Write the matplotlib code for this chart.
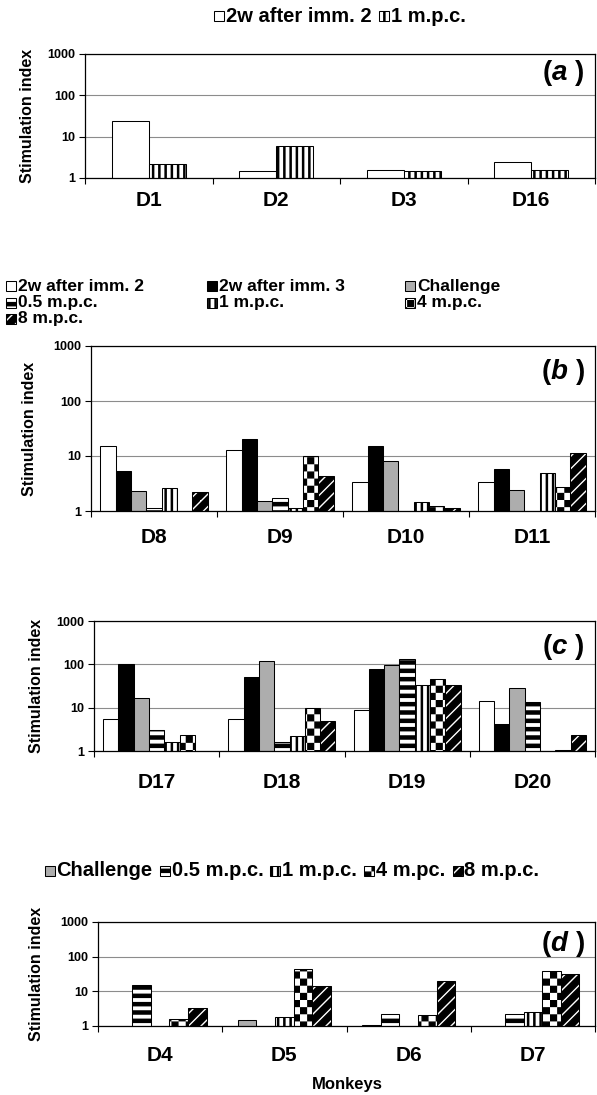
import matplotlib
matplotlib.use('Agg')
import matplotlib.pyplot as plt
import matplotlib.hatch as mhatch
from matplotlib.path import Path
from matplotlib.patches import Rectangle
from matplotlib.ticker import NullLocator
import numpy as np

# =============================================================================
# Data (stimulation index; nan = no bar)
# =============================================================================
nan = np.nan

cats_a = ['D1', 'D2', 'D3', 'D16']
a_imm2 = [24, 1.45, 1.6, 2.4]
a_1mpc = [2.2, 6.0, 1.45, 1.6]

cats_b = ['D8', 'D9', 'D10', 'D11']
b_imm2 = [15.3, 13.1, 3.4, 3.3]
b_imm3 = [5.4, 20.5, 15.3, 5.9]
b_chal = [2.3, 1.5, 8.2, 2.4]
b_05 = [1.15, 1.75, nan, nan]
b_1 = [2.65, 1.13, 1.44, 5.0]
b_4 = [nan, 10.2, 1.23, 2.7]
b_8 = [2.2, 4.4, 1.12, 11.4]

cats_c = ['D17', 'D18', 'D19', 'D20']
c_imm2 = [5.6, 5.6, 8.8, 14.4]
c_imm3 = [100, 50, 79, 4.3]
c_chal = [17, 121, 99, 29]
c_05 = [3.05, 1.6, 134, 13.2]
c_1 = [1.6, 2.2, 34, nan]
c_4 = [2.3, 9.8, 46, 1.08]
c_8 = [nan, 5.0, 34, 2.4]

cats_d = ['D4', 'D5', 'D6', 'D7']
d_chal = [nan, 1.48, 1.1, nan]
d_05 = [15.5, nan, 2.25, 2.25]
d_1 = [nan, 1.77, nan, 2.57]
d_4 = [1.62, 44.5, 2.1, 39.8]
d_8 = [3.34, 13.9, 19.3, 32]

yticks = [1, 10, 100, 1000]
ytick_labels = ['1', '10', '100', '1000']

# =============================================================================
# Fill patterns (filled bands / checker instead of matplotlib's thin lines)
# =============================================================================
HATCH_LW = 1.0
plt.rcParams['hatch.linewidth'] = HATCH_LW
SHRINK = HATCH_LW / 72  # hatch tile is one inch, the stroke grows each shape by this

CLOSED = [Path.MOVETO, Path.LINETO, Path.LINETO, Path.LINETO, Path.CLOSEPOLY]


def rect(x0, y0, x1, y1):
    return [(x0, y0), (x1, y0), (x1, y1), (x0, y1), (x0, y0)]


class FilledHatch(mhatch.HatchPatternBase):
    symbol = ''

    def __init__(self, hatch, density):
        self.polys = self.shapes() if self.symbol in hatch else []
        self.num_vertices = 5 * len(self.polys)

    def set_vertices_and_codes(self, vertices, codes):
        for k, poly in enumerate(self.polys):
            vertices[5 * k:5 * k + 5] = poly
            codes[5 * k:5 * k + 5] = CLOSED


class HBands(FilledHatch):
    symbol = '-'

    def shapes(self):
        n, t = 12, 0.045 - SHRINK
        return [rect(0, (i + .5) / n - t / 2, 1, (i + .5) / n + t / 2) for i in range(n)]


class VBands(FilledHatch):
    symbol = '|'

    def shapes(self):
        n, t = 16, 0.025 - SHRINK
        return [rect((i + .5) / n - t / 2, 0, (i + .5) / n + t / 2, 1) for i in range(n)]


class DiagBands(FilledHatch):
    symbol = '/'

    def shapes(self):
        n = 8
        b = 1 / n - 0.02 - SHRINK * np.sqrt(2)
        out = []
        for k in range(2 * n):
            c = -1 + k / n
            out.append([(0, c), (1, 1 + c), (1, 1 + c + b), (0, c + b), (0, c)])
        return out


class Checker(FilledHatch):
    symbol = 'O'

    def shapes(self):
        n = 14
        c, s = 1 / n, SHRINK / 2
        return [rect(i * c + s, j * c + s, (i + 1) * c - s, (j + 1) * c - s)
                for i in range(n) for j in range(n) if (i + j) % 2 == 0]


mhatch._hatch_types = [HBands, VBands, DiagBands, Checker]

styles = {
    '2w after imm. 2': dict(facecolor='white'),
    '2w after imm. 3': dict(facecolor='black'),
    'Challenge': dict(facecolor='#adadad'),
    '0.5 m.p.c.': dict(facecolor='white', hatch='-'),
    '1 m.p.c.': dict(facecolor='white', hatch='|'),
    '4 m.p.c.': dict(facecolor='white', hatch='O'),
    '8 m.p.c.': dict(facecolor='white', hatch='/'),
}

# =============================================================================
# Figure
# =============================================================================
plt.rcParams['font.family'] = ['Liberation Sans', 'DejaVu Sans']
plt.rcParams['font.weight'] = 'bold'
plt.rcParams['mathtext.fontset'] = 'custom'
plt.rcParams['mathtext.rm'] = 'Liberation Sans:bold'
plt.rcParams['mathtext.it'] = 'Liberation Sans:italic:bold'

W, H = 597, 1095
fig = plt.figure(figsize=(W / 100, H / 100), dpi=100)
renderer = fig.canvas.get_renderer()


def fx(x):
    return x / W


def fy(y):
    return 1 - y / H


def panel(box, cats, series, width, tag, tag_y, gap, ylab_x):
    l, t, r, b = box
    ax = fig.add_axes([fx(l), fy(b), (r - l) / W, (b - t) / H])
    ax.set_yscale('log')
    x = np.arange(1, len(cats) + 1)
    n = len(series)
    for i, (name, vals) in enumerate(series):
        vals = np.asarray(vals, float)
        ok = ~np.isnan(vals)
        off = (i - (n - 1) / 2) * width
        ax.bar(x[ok] + off, vals[ok], width, edgecolor='black', linewidth=0.75,
               zorder=2, **styles[name])
    ax.set_xlim(0.5, len(cats) + 0.5)
    ax.set_ylim(1, 1000)
    ax.set_yticks(yticks, ytick_labels)
    ax.yaxis.set_minor_locator(NullLocator())
    ax.tick_params(axis='y', length=4, width=0.8, labelsize=9, pad=3)
    ax.set_xticks(x, cats)
    ax.set_xticks(np.arange(0.5, len(cats) + 1), minor=True)
    ax.tick_params(axis='x', which='major', length=0, labelsize=15, pad=gap * 0.72)
    ax.tick_params(axis='x', which='minor', length=4, width=0.8)
    ax.grid(axis='y', color='#8c8c8c', linewidth=0.8)
    ax.set_axisbelow(True)
    for s in ax.spines.values():
        s.set_linewidth(0.9)
    ax.text(0.98, tag_y, rf'$({tag}\ )$', transform=ax.transAxes,
            ha='right', va='center', fontsize=20)
    fig.text(fx(ylab_x), fy((t + b) / 2), 'Stimulation index', rotation=90,
             ha='center', va='center', fontsize=11.5)
    return ax


def key(x, y, name, text, size):
    # small patterned square + label
    fig.add_artist(Rectangle((fx(x), fy(y + 5)), 10 / W, 10 / H,
                             transform=fig.transFigure, edgecolor='black',
                             linewidth=0.75, **styles[name]))
    fig.text(fx(x + 12), fy(y), text, ha='left', va='center', fontsize=size)


def legend_row(entries, y, center, size=14.5, sep=8):
    # lay entries out one after the other, then centre the row
    widths = []
    for name, text in entries:
        t = fig.text(0, 0, text, fontsize=size)
        widths.append(12 + t.get_window_extent(renderer).width)
        t.remove()
    total = sum(widths) + sep * (len(entries) - 1)
    x = center - total / 2
    for (name, text), w in zip(entries, widths):
        key(x, y, name, text, size)
        x += w + sep


# (a)
legend_row([('2w after imm. 2', '2w after imm. 2'), ('1 m.p.c.', '1 m.p.c.')],
           16, 340)
panel((85, 54, 595, 178), cats_a,
      [('2w after imm. 2', a_imm2), ('1 m.p.c.', a_1mpc)],
      0.29, 'a', 0.85, 13, 28)

# (b) legend in three columns
for y, row in [(286.5, ['2w after imm. 2', '2w after imm. 3', 'Challenge']),
               (302.5, ['0.5 m.p.c.', '1 m.p.c.', '4 m.p.c.']),
               (318.5, ['8 m.p.c.'])]:
    for x, name in zip([6, 207, 405], row):
        key(x, y, name, name, 12.5)
panel((91, 346, 595, 511), cats_b,
      [('2w after imm. 2', b_imm2), ('2w after imm. 3', b_imm3),
       ('Challenge', b_chal), ('0.5 m.p.c.', b_05), ('1 m.p.c.', b_1),
       ('4 m.p.c.', b_4), ('8 m.p.c.', b_8)],
      0.122, 'b', 0.84, 17, 30)

# (c)
panel((94, 621, 595, 751), cats_c,
      [('2w after imm. 2', c_imm2), ('2w after imm. 3', c_imm3),
       ('Challenge', c_chal), ('0.5 m.p.c.', c_05), ('1 m.p.c.', c_1),
       ('4 m.p.c.', c_4), ('8 m.p.c.', c_8)],
      0.122, 'c', 0.80, 22, 37)

# (d)
legend_row([('Challenge', 'Challenge'), ('0.5 m.p.c.', '0.5 m.p.c.'),
            ('1 m.p.c.', '1 m.p.c.'), ('4 m.p.c.', '4 m.pc.'),
            ('8 m.p.c.', '8 m.p.c.')], 871, 292, sep=7)
panel((98, 922, 595, 1026), cats_d,
      [('Challenge', d_chal), ('0.5 m.p.c.', d_05), ('1 m.p.c.', d_1),
       ('4 m.p.c.', d_4), ('8 m.p.c.', d_8)],
      0.15, 'd', 0.79, 20, 37)
fig.text(fx(347), fy(1084), 'Monkeys', ha='center', va='center', fontsize=12)

fig.savefig('out.png', dpi=100)
